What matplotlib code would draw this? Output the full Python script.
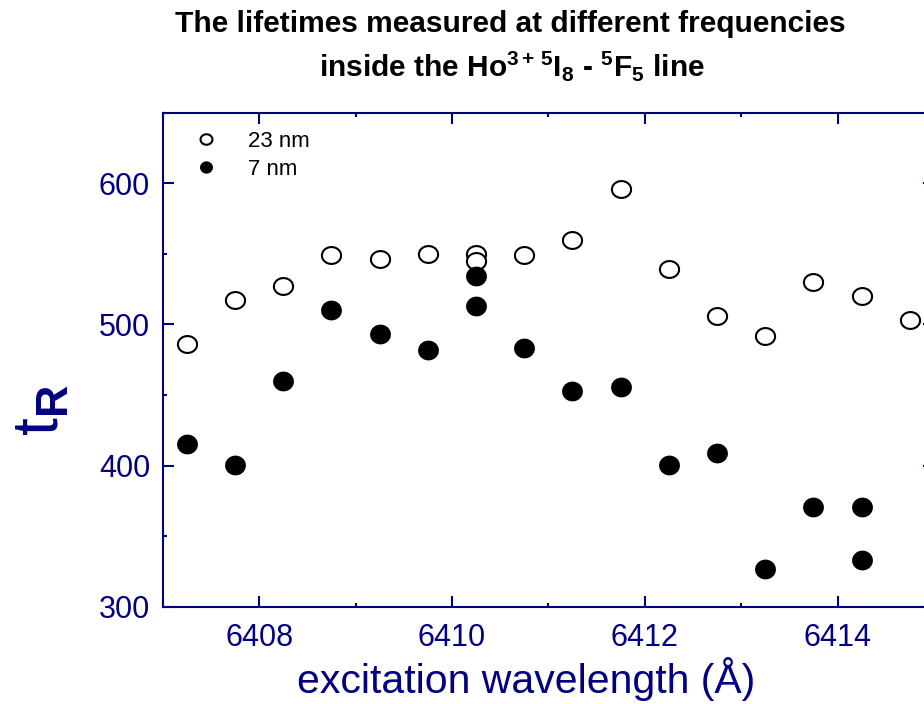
import numpy as np
import matplotlib
matplotlib.use("Agg")
import matplotlib.pyplot as plt
from matplotlib.path import Path
from matplotlib.ticker import MultipleLocator

plt.rcParams["font.family"] = ["Liberation Sans", "DejaVu Sans"]
plt.rcParams["mathtext.fontset"] = "custom"
plt.rcParams["mathtext.rm"] = "Liberation Sans"
plt.rcParams["mathtext.bf"] = "Liberation Sans:bold"
plt.rcParams["mathtext.it"] = "Liberation Sans:italic"
plt.rcParams["mathtext.default"] = "bf"

NAVY = "#000080"

# data (wavelength in Angstrom, lifetime)
wl_23nm = [6407.25, 6407.75, 6408.25, 6408.75, 6409.25, 6409.75, 6410.25, 6410.25,
           6410.75, 6411.25, 6411.75, 6412.25, 6412.75, 6413.25, 6413.75, 6414.25,
           6414.75]
tau_23nm = [486, 517, 527, 549, 546, 550, 550, 545,
            549, 560, 596, 539, 506, 492, 530, 520,
            503]

wl_7nm = [6407.25, 6407.75, 6408.25, 6408.75, 6409.25, 6409.75, 6410.25, 6410.25,
          6410.75, 6411.25, 6411.75, 6412.25, 6412.75, 6413.25, 6413.75, 6414.25,
          6414.25]
tau_7nm = [415, 400.5, 460, 510, 493, 482, 534, 513,
           483, 453, 456, 400.5, 409, 327, 370.5, 370.5,
           333]

labels = ["23 nm", "7 nm"]


# slightly squashed circle, the original looks stretched sideways
def ellipse_marker(ratio):
    t = np.linspace(0, 2 * np.pi, 60)
    verts = np.column_stack([np.cos(t), ratio * np.sin(t)])
    return Path(verts, closed=True)


fig = plt.figure(figsize=(9.24, 7.04), dpi=100)
ax = fig.add_axes([0.1761, 0.1382, 0.8347, 0.7017])

ax.plot(wl_23nm, tau_23nm, linestyle="none", marker=ellipse_marker(0.88),
        markersize=13.8, markerfacecolor="white", markeredgecolor="black",
        markeredgewidth=1.5, label=labels[0], zorder=3)
ax.plot(wl_7nm, tau_7nm, linestyle="none", marker=ellipse_marker(0.95),
        markersize=15.0, markerfacecolor="black", markeredgewidth=0,
        color="black", label=labels[1], zorder=4)

ax.set_xlim(6407, 6415)
ax.set_ylim(300, 650)
ax.xaxis.set_major_locator(MultipleLocator(2))
ax.xaxis.set_minor_locator(MultipleLocator(1))
ax.yaxis.set_major_locator(MultipleLocator(100))
ax.yaxis.set_minor_locator(MultipleLocator(50))

for s in ax.spines.values():
    s.set_color(NAVY)
    s.set_linewidth(1.5)
ax.tick_params(which="both", direction="in", top=True, right=True,
               color=NAVY, width=1.5, labelcolor=NAVY, labelsize=22)
ax.tick_params(which="major", length=8)
ax.tick_params(which="minor", length=3)
ax.tick_params(axis="x", pad=12)
ax.tick_params(axis="y", pad=9)

leg = ax.legend(loc="upper left", bbox_to_anchor=(195 / 924, 1 - 131 / 704),
                bbox_transform=fig.transFigure, frameon=False, fontsize=16,
                markerscale=0.62, handlelength=1.0, handletextpad=1.4,
                labelspacing=0.3, borderpad=0, borderaxespad=0)

fig.text(526 / 924, 1 - 693 / 704, "excitation wavelength (Å)", ha="center",
         va="baseline", fontsize=29.5, color=NAVY)
fig.text(42 / 924, 1 - 410 / 704, r"$\mathrm{t}_{\mathbf{R}}$", rotation=90,
         ha="center", va="center", fontsize=46, color=NAVY)

fig.text(510 / 924, 1 - 32 / 704, "The lifetimes measured at different frequencies",
         ha="center", va="baseline", fontsize=21.5, fontweight="bold")
fig.text(512 / 924, 1 - 76 / 704,
         r"inside the Ho$^{3+\,5}$I$_{8}$ - $^{5}$F$_{5}$ line",
         ha="center", va="baseline", fontsize=21.5, fontweight="bold")

fig.savefig("out.png", dpi=100)
